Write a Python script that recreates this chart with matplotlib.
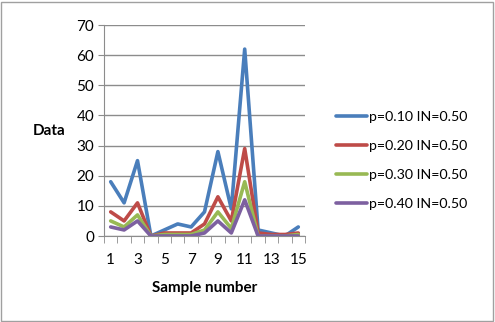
import matplotlib.pyplot as plt
from matplotlib.patches import Rectangle

plt.rcParams['font.family'] = ['Lato', 'DejaVu Sans']

samples = list(range(1, 16))
p010 = [18, 11, 25, 0, 2, 4, 3, 8, 28, 9, 62, 2, 1, 0, 3]
p020 = [8, 5, 11, 0, 1, 1, 1, 4, 13, 5, 29, 1, 0.5, 0.5, 1]
p030 = [5, 3, 7, 0, 0.5, 0.5, 0.5, 2, 8, 2.5, 18, 0, 0, 0, 0.5]
p040 = [3, 2, 5, 0, 0, 0, 0, 1, 5, 1, 12, 0, 0, 0, 0]
labels = ['p=0.10 IN=0.50', 'p=0.20 IN=0.50', 'p=0.30 IN=0.50', 'p=0.40 IN=0.50']
colors = ['#4A7EBB', '#BE4B48', '#98B954', '#7D60A0']

fig = plt.figure(figsize=(4.95, 3.22), dpi=100)
ax = fig.add_axes([104/495, 1 - 236/322, 201/495, 211/322])

for ys, lab, c in zip([p010, p020, p030, p040], labels, colors):
    ax.plot(samples, ys, color=c, linewidth=2.6, label=lab, solid_capstyle='round')

ax.set_xlim(0.5, 15.5)
ax.set_ylim(0, 70)
ax.set_yticks(range(0, 71, 10))
ax.set_xticks(range(1, 16, 2))
ax.set_xticks([i + 0.5 for i in range(0, 16)], minor=True)
ax.yaxis.grid(True, color='#8C8C8C', linewidth=1)
ax.set_axisbelow(True)
for s in ['top', 'right']:
    ax.spines[s].set_visible(False)
for s in ['left', 'bottom']:
    ax.spines[s].set_color('#8C8C8C')
ax.tick_params(axis='y', length=4, color='#8C8C8C', labelsize=11, pad=3)
ax.tick_params(axis='x', which='major', length=0, labelsize=11, pad=12)
ax.tick_params(axis='x', which='minor', length=5, color='#8C8C8C')

ax.set_xlabel('Sample number', fontsize=11, fontweight='bold', labelpad=10)
ax.set_ylabel('Data', fontsize=11, fontweight='bold', rotation=0, labelpad=20, va='center')

fig.legend(loc='center left', bbox_to_anchor=(323/495, 1 - 160/322), frameon=False,
           fontsize=10.2, handlelength=2.2, labelspacing=1.2, handletextpad=0.15)

fig.patches.append(Rectangle((0.003, 0.004), 0.992, 0.99, transform=fig.transFigure,
                             fill=False, edgecolor='#A0A0A0', linewidth=1))

fig.savefig('out.png', dpi=100)
